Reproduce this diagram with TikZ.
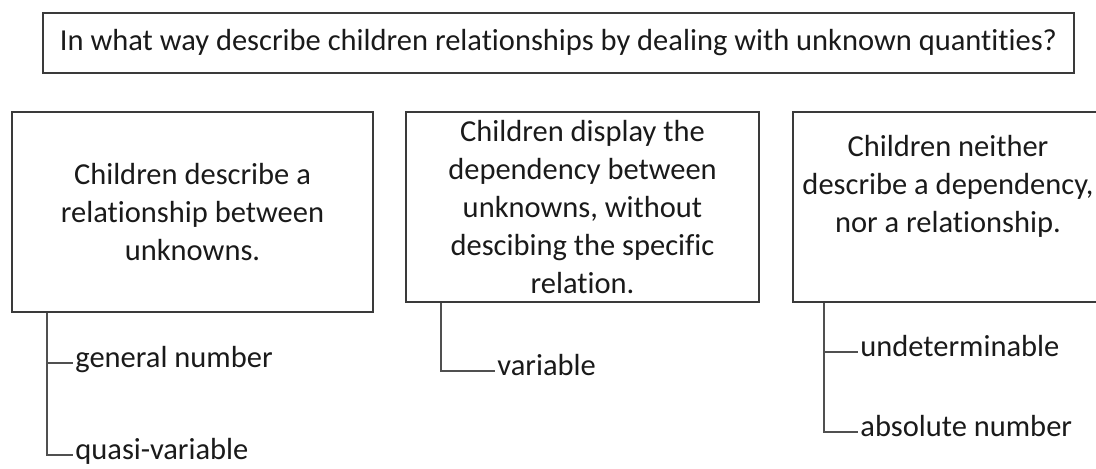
\documentclass[tikz,border=0pt]{standalone}
\usepackage{fontspec}
\setmainfont[Ligatures={NoCommon}]{Carlito}
\usepackage{tikz}
\usetikzlibrary{positioning,calc}
\definecolor{boxline}{HTML}{3A3A3A}
\definecolor{treeline}{HTML}{505050}
\definecolor{ink}{HTML}{1A1A1A}

\begin{document}
\begin{tikzpicture}[x=0.5pt, y=-0.5pt,
    catbox/.style={rectangle, draw=boxline, line width=0.9pt, align=center, inner sep=0pt, text=ink, font=\fontsize{15.25}{19}\selectfont},
    leaf/.style={anchor=mid west, inner sep=1pt, text=ink, font=\fontsize{15.25}{19}\selectfont},
    branch/.style={draw=treeline, line width=1pt}]
    \useasboundingbox (0,0) rectangle (1096,468);

    % Question
    \node[catbox, minimum width=515.5pt, minimum height=30pt] (question) at (558.5,43) {In what way describe children relationships by dealing with unknown quantities?};

    % Categories
    \node[catbox, minimum width=180.5pt, minimum height=100pt] (relation) at (192.5,212) {Children describe a\\relationship between\\unknowns.};
    \node[catbox, minimum width=176.5pt, minimum height=95pt] (dependency) at (582.5,207) {Children display the\\dependency between\\unknowns, without\\descibing the specific\\relation.};
    \node[catbox, minimum width=155pt, minimum height=95pt] (neither) at (948,207) {};
    \node[catbox, draw=none] (neithertext) at (948,186) {Children neither\\describe a dependency,\\nor a relationship.};

    % Leaves
    \node[leaf] (general) at (73,363) {general number};
    \node[leaf] (quasi) at (73,455) {quasi-variable};
    \node[leaf] (variable) at (495,371) {variable};
    \node[leaf] (undet) at (858,352) {undeterminable};
    \node[leaf] (absolute) at (858,432) {absolute number};

    % Tree lines
    \draw[branch] ([xshift=18pt]relation.south west) |- (general.mid west);
    \draw[branch] ([xshift=18pt]relation.south west) |- (quasi.mid west);
    \draw[branch] ([xshift=18pt]dependency.south west) |- (variable.mid west);
    \draw[branch] ([xshift=16pt]neither.south west) |- (undet.mid west);
    \draw[branch] ([xshift=16pt]neither.south west) |- (absolute.mid west);
\end{tikzpicture}
\end{document}
